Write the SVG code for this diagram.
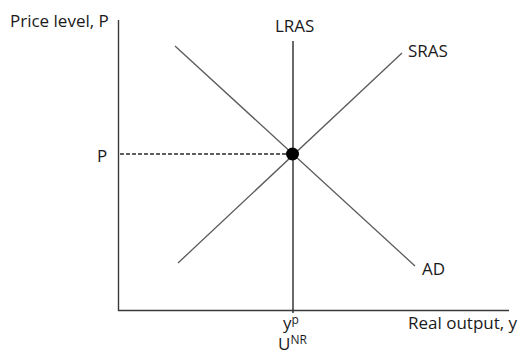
<svg xmlns="http://www.w3.org/2000/svg" width="522" height="356" viewBox="0 0 522 356">
<style>
text{font-family:"Open Sans","Liberation Sans",sans-serif;font-size:17px;fill:#1a1a1a}
.sup{font-size:12px}
.axis{stroke:#3a3a3a;stroke-width:1.4;fill:none}
.curve{stroke:#5a5a5a;stroke-width:1.3;fill:none}
.lras{stroke:#2a2a2a;stroke-width:1.4;fill:none}
.dash{stroke:#2a2a2a;stroke-width:1.3;stroke-dasharray:4 2;fill:none}
</style>
<rect width="522" height="356" fill="#fff"/>
<g id="axes">
<line class="axis" x1="118.5" y1="20" x2="118.5" y2="311"/>
<line class="axis" x1="118" y1="310.5" x2="509" y2="310.5"/>
<text x="10" y="27">Price level, P</text>
<text x="408" y="329">Real output, y</text>
</g>
<g id="connectors">
<line class="dash" x1="120" y1="154" x2="287" y2="154"/>
</g>
<g id="LRAS">
<line class="lras" x1="293" y1="41" x2="293" y2="313"/>
<text x="275" y="32">LRAS</text>
</g>
<g id="SRAS">
<line class="curve" x1="178" y1="263" x2="402" y2="53"/>
<text x="408" y="57">SRAS</text>
</g>
<g id="AD">
<line class="curve" x1="175" y1="46" x2="415" y2="266"/>
<text x="422" y="275">AD</text>
</g>
<g id="equilibrium">
<circle cx="292.5" cy="154" r="6.5" fill="#000"/>
<text x="97" y="161.5">P</text>
<text x="283" y="329">y<tspan class="sup" dy="-5">p</tspan></text>
<text x="278" y="350">U<tspan class="sup" dy="-6">NR</tspan></text>
</g>
</svg>
